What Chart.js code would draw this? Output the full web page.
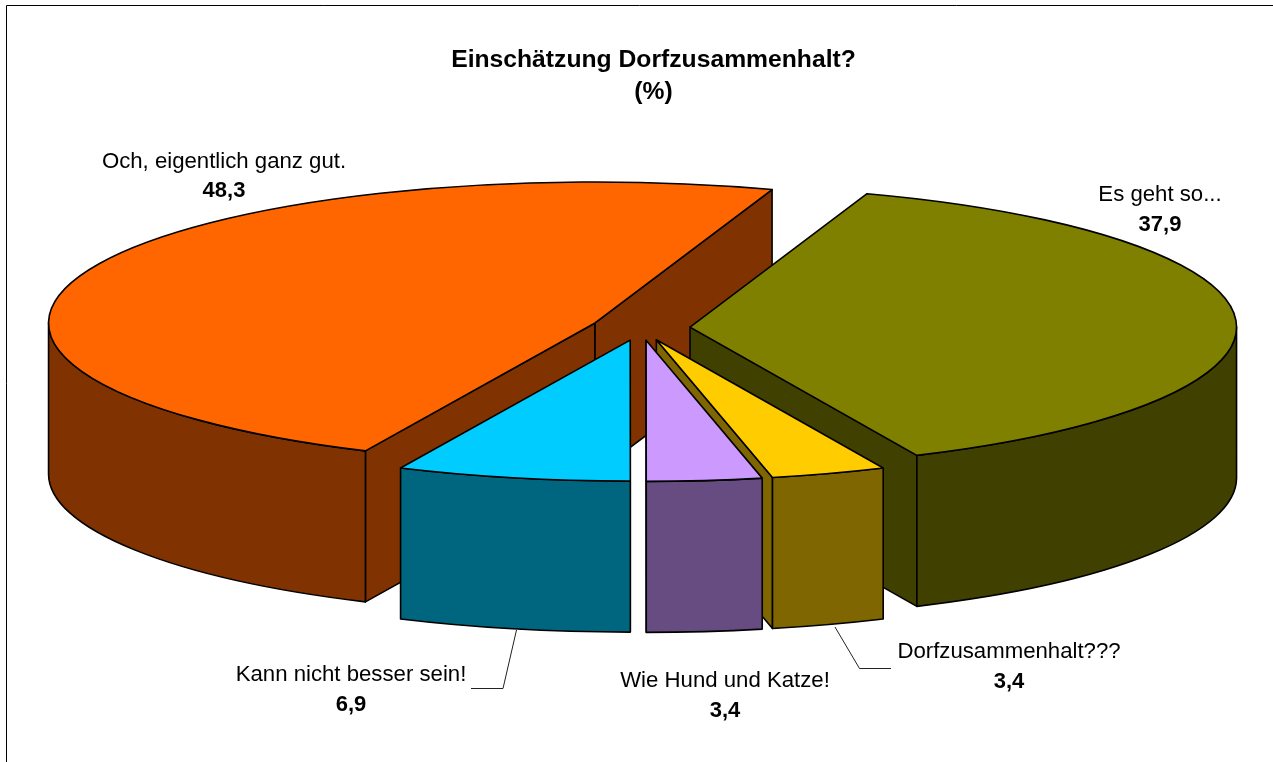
<!DOCTYPE html>
<html>
<head>
<meta charset="utf-8">
<style>html,body{margin:0;padding:0;background:#fff}canvas{display:block}</style>
<script src="https://cdn.jsdelivr.net/npm/chart.js@4/dist/chart.umd.js"></script>
</head>
<body>
<canvas id="c" width="1273" height="762"></canvas>
<script>
const categories = ["Es geht so...", "Dorfzusammenhalt???", "Wie Hund und Katze!", "Kann nicht besser sein!", "Och, eigentlich ganz gut."];
const values = [37.9, 3.4, 3.4, 6.9, 48.3];
const topColors = ["#808000", "#FFCC00", "#CC99FF", "#00CCFF", "#FF6600"];
const wallColors = ["#404000", "#806600", "#664C80", "#006680", "#803300"];
const titleLines = ["Einschätzung Dorfzusammenhalt?", "(%)"];

// Projection of the flat pie into the tilted 3D view
const centre = {x: 640.8, y: 327.7};
const squash = 0.258, depth = 151, explode = 49.3, pieRadius = 546.5, firstAngle = 18.9;
const wallOrder = [4, 0, 1, 2, 3];
const labelAnchors = [[1160, 195, 225], [1009, 652, 682], [725, 681, 711], [351, 675, 705], [224, 162, 191]];
const leaders = [null, [[835,627],[859.5,668.5],[891,668.5]], null, [[516.5,630],[503,688.5],[471,688.5]], null];

const pie3d = {
  id: 'pie3d',
  beforeDraw(chart) {
    const ctx = chart.ctx;
    ctx.save();
    ctx.strokeStyle = '#000'; ctx.lineWidth = 1;
    ctx.beginPath(); ctx.moveTo(6.5, 762); ctx.lineTo(6.5, 5.5); ctx.lineTo(1273, 5.5); ctx.stroke();
    ctx.restore();
  },
  beforeDatasetDraw(chart, args) {
    const ctx = chart.ctx;
    const arcs = args.meta.data;
    const geo = arcs.map(arc => {
      const a = arc.startAngle, b = arc.endAngle, mid = (a + b) / 2;
      return {a, b, x: centre.x + Math.cos(mid) * explode, y: centre.y + Math.sin(mid) * explode * squash, r: arc.outerRadius};
    });
    const pt = (g, t) => [g.x + g.r * Math.cos(t), g.y + g.r * squash * Math.sin(t)];
    ctx.save();
    ctx.lineJoin = 'round';
    ctx.strokeStyle = '#000';
    ctx.lineWidth = 1.6;
    const face = (g, t, col) => {
      const p = pt(g, t);
      ctx.beginPath();
      ctx.moveTo(g.x, g.y); ctx.lineTo(p[0], p[1]); ctx.lineTo(p[0], p[1] + depth); ctx.lineTo(g.x, g.y + depth);
      ctx.closePath();
      ctx.fillStyle = col; ctx.fill(); ctx.stroke();
    };
    // side walls, back to front
    wallOrder.forEach(i => {
      const g = geo[i], col = wallColors[i];
      if (-Math.cos(g.a) > 0) face(g, g.a, col);
      if (Math.cos(g.b) > 0) face(g, g.b, col);
      const lo = Math.max(g.a, 0), hi = Math.min(g.b, Math.PI);
      if (hi > lo) {
        ctx.beginPath();
        ctx.ellipse(g.x, g.y, g.r, g.r * squash, 0, lo, hi);
        ctx.ellipse(g.x, g.y + depth, g.r, g.r * squash, 0, hi, lo, true);
        ctx.closePath();
        ctx.fillStyle = col; ctx.fill(); ctx.stroke();
      }
    });
    // top faces: the library's own arc elements under the tilt transform
    arcs.forEach((arc, i) => {
      const g = geo[i];
      ctx.save();
      ctx.translate(g.x, g.y);
      ctx.scale(1, squash);
      ctx.translate(-arc.x, -arc.y);
      arc.draw(ctx);
      ctx.restore();
      ctx.beginPath();
      ctx.moveTo(g.x, g.y);
      ctx.ellipse(g.x, g.y, g.r, g.r * squash, 0, g.a, g.b);
      ctx.closePath();
      ctx.stroke();
    });
    ctx.restore();
    return false;
  },
  afterDraw(chart) {
    const ctx = chart.ctx;
    ctx.save();
    ctx.fillStyle = '#000';
    ctx.textAlign = 'center';
    ctx.textBaseline = 'middle';
    ctx.font = 'bold 24.7px "Liberation Sans", Arial, sans-serif';
    ctx.fillText(titleLines[0], 653.5, 60);
    ctx.fillText(titleLines[1], 653.5, 92);
    categories.forEach((name, i) => {
      const [x, y1, y2] = labelAnchors[i];
      ctx.font = '22.2px "Liberation Sans", Arial, sans-serif';
      ctx.fillText(name, x, y1);
      ctx.font = 'bold 22px "Liberation Sans", Arial, sans-serif';
      ctx.fillText(String(values[i]).replace('.', ','), x, y2);
      if (leaders[i]) {
        ctx.beginPath();
        leaders[i].forEach((p, k) => k ? ctx.lineTo(p[0], p[1]) : ctx.moveTo(p[0], p[1]));
        ctx.strokeStyle = '#222'; ctx.lineWidth = 1; ctx.stroke();
      }
    });
    ctx.restore();
  }
};

new Chart(document.getElementById('c'), {
  type: 'pie',
  plugins: [pie3d],
  data: {
    labels: categories,
    datasets: [{data: values, backgroundColor: topColors, borderWidth: 0, offset: 0, hoverOffset: 0}]
  },
  options: {
    responsive: false,
    animation: false,
    radius: pieRadius,
    rotation: firstAngle,
    layout: {padding: 0},
    events: [],
    plugins: {legend: {display: false}, tooltip: {enabled: false}, title: {display: false}}
  }
});
</script>
</body>
</html>
